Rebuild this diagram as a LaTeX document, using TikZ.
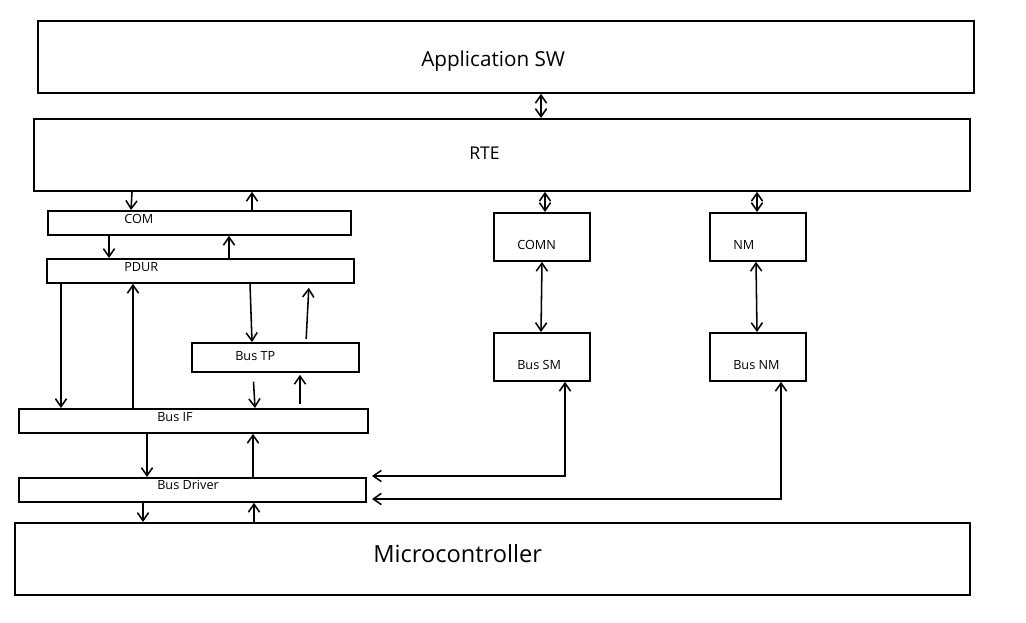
\documentclass[tikz,border=0pt]{standalone}
\usepackage{fontspec}
\setmainfont{Open Sans}
\usepackage{tikz}
\usetikzlibrary{arrows.meta}
\newcommand{\pxunit}{0.025cm}
\tikzset{>={Straight Barb[length=2mm,width=2.8mm]}}
\tikzset{blk/.style 2 args={draw, line width=1.3pt, minimum width=#1*\pxunit, minimum height=#2*\pxunit, anchor=north west, inner sep=0pt},
  lbl/.style={anchor=base west, inner sep=0pt, font=\fontsize{9}{10}\selectfont},
  link/.style={line width=1.1pt}}

\begin{document}
\begin{tikzpicture}[x=0.025cm,y=-0.025cm]
  \useasboundingbox (0,0) rectangle (1026,623);
  % layers
  \node[blk={936}{72}] (app) at (37,20) {};
  \node[blk={936}{72}] (rte) at (33,118) {};
  \node[blk={955}{72}] (micro) at (14,522) {};
  % com stack
  \node[blk={303}{24}] (com) at (47,210) {};
  \node[blk={307}{24}] (pdur) at (46,258) {};
  \node[blk={167}{29}] (bustp) at (191,342) {};
  \node[blk={349}{24}] (busif) at (18,408) {};
  \node[blk={347}{24}] (busdrv) at (18,477) {};
  % state and network management
  \node[blk={96}{48}] (comn) at (493,212) {};
  \node[blk={96}{48}] (nm) at (709,212) {};
  \node[blk={96}{48}] (bussm) at (493,332) {};
  \node[blk={96}{48}] (busnm) at (709,332) {};

  % texts
  \node[anchor=base west, inner sep=0pt, font=\fontsize{14.7}{16}\selectfont] (apptxt) at (421,67) {Application SW};
  \node[anchor=base west, inner sep=0pt, font=\fontsize{12.5}{14}\selectfont] (rtetxt) at (469,160) {RTE};
  \node[anchor=base west, inner sep=0pt, font=\fontsize{16.8}{18}\selectfont] (microtxt) at (373,562) {Microcontroller};
  \node[lbl] (comtxt) at (124,223) {COM};
  \node[lbl] (pdurtxt) at (124,271) {PDUR};
  \node[lbl] (bustptxt) at (235,360) {Bus TP};
  \node[lbl] (busiftxt) at (157,421) {Bus IF};
  \node[lbl] (busdrvtxt) at (157,489) {Bus Driver};
  \node[lbl] (comntxt) at (517,249) {COMN};
  \node[lbl] (nmtxt) at (733,249) {NM};
  \node[lbl] (bussmtxt) at (517,369) {Bus SM};
  \node[lbl] (busnmtxt) at (733,369) {Bus NM};

  % arrows
  \draw[link,<->] (541,0 |- app.south) -- (541,0 |- rte.north);
  \draw[link,->] (132,0 |- rte.south) -- (131,0 |- com.north);
  \draw[link,->] (252,0 |- com.north) -- (252,0 |- rte.south);
  \draw[link,->] (109,0 |- com.south) -- (109,0 |- pdur.north);
  \draw[link,->] (229,0 |- pdur.north) -- (229,0 |- com.south);
  \draw[link,->] (61,0 |- pdur.south) -- (61,0 |- busif.north);
  \draw[link,->] (133,0 |- busif.north) -- (133,0 |- pdur.south);
  \draw[link,->] (250,0 |- pdur.south) -- (252,0 |- bustp.north);
  \draw[link,->,shorten <=0.08cm,shorten >=0.1cm] (306,0 |- bustp.north) -- (309,0 |- pdur.south);
  \draw[link,->,shorten <=0.22cm] (253,0 |- bustp.south) -- (255,0 |- busif.north);
  \draw[link,->,shorten <=0.1cm,shorten >=0.05cm] (300,0 |- busif.north) -- (300,0 |- bustp.south);
  \draw[link,->] (147,0 |- busif.south) -- (147,0 |- busdrv.north);
  \draw[link,->] (253,0 |- busdrv.north) -- (253,0 |- busif.south);
  \draw[link,->] (143,0 |- busdrv.south) -- (143,0 |- micro.north);
  \draw[link,->] (254,0 |- micro.north) -- (254,0 |- busdrv.south);
  \draw[link,<->] (545,0 |- rte.south) -- (545,0 |- comn.north);
  \draw[link,<->] (757,0 |- rte.south) -- (757,0 |- nm.north);
  \draw[link,<->] (542,0 |- comn.south) -- (541,0 |- bussm.north);
  \draw[link,<->] (756,0 |- nm.south) -- (757,0 |- busnm.north);
  \coordinate (smin) at (372,476);
  \coordinate (nmin) at (372,499);
  \draw[link,<->] (smin) -| (565,0 |- bussm.south);
  \draw[link,<->] (nmin) -| (781,0 |- busnm.south);
\end{tikzpicture}
\end{document}
